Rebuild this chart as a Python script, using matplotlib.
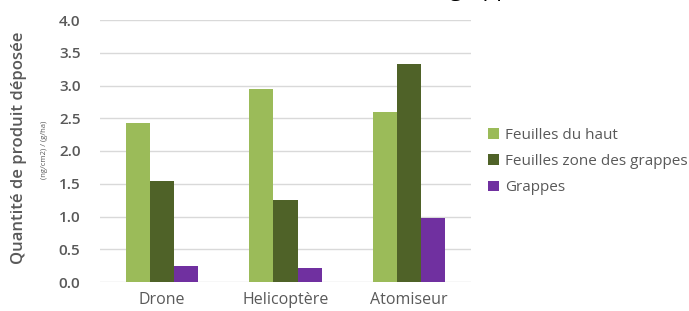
import matplotlib
matplotlib.use("Agg")
import matplotlib.pyplot as plt
import numpy as np

categories = ["Drone", "Helicoptère", "Atomiseur"]
series_names = ["Feuilles du haut", "Feuilles zone des grappes", "Grappes"]
feuilles_haut = [2.43, 2.94, 2.59]
feuilles_grappes = [1.54, 1.25, 3.33]
grappes = [0.24, 0.22, 0.97]
yticks = [0.0, 0.5, 1.0, 1.5, 2.0, 2.5, 3.0, 3.5, 4.0]
colors = ["#9BBB59", "#4F6228", "#7030A0"]

plt.rcParams['font.family'] = ['Open Sans', 'DejaVu Sans']
fig = plt.figure(figsize=(6.89, 3.11), dpi=100)
ax = fig.add_axes([100/689, 1-282/311, 371/689, 262/311])

x = np.arange(len(categories))
w = 0.195
for i, (vals, name, c) in enumerate(zip([feuilles_haut, feuilles_grappes, grappes], series_names, colors)):
    ax.bar(x + (i-1)*w, vals, width=w, color=c, label=name, zorder=3)

ax.set_xlim(-0.5, 2.5)
ax.set_ylim(0, 4.0)
ax.set_yticks(yticks)
ax.set_yticklabels([f"{v:.1f}" for v in yticks])
ax.set_xticks(x)
ax.set_xticklabels(categories)
ax.grid(axis='y', color='#D9D9D9', linewidth=1, zorder=0)
for s in ax.spines.values():
    s.set_visible(False)
ax.tick_params(axis='both', length=0, colors='#595959', labelsize=11)
for lab in ax.get_yticklabels():
    lab.set_fontweight('semibold')
ax.tick_params(axis='y', pad=14)
ax.tick_params(axis='x', pad=7, labelsize=11.5)

fig.text(19/689, 1-148/311, "Quantité de produit déposée", rotation=90, ha='center', va='center',
         fontsize=12, fontweight='semibold', color='#595959')
fig.text(45/689, 1-150/311, "(ng/cm2) / (g/ha)", rotation=90, ha='center', va='center',
         fontsize=5.5, color='#595959')
fig.text(534/689, 1+4/311, "grappes", ha='right', va='baseline', fontsize=16, color='black')

leg = ax.legend(loc='center left', bbox_to_anchor=(382/371, 0.46), frameon=False,
                fontsize=11, handlelength=0.7, handleheight=0.7, handletextpad=0.4,
                labelspacing=0.75, borderaxespad=0)
for t in leg.get_texts():
    t.set_color('#595959')

fig.savefig("out.png", dpi=100)
